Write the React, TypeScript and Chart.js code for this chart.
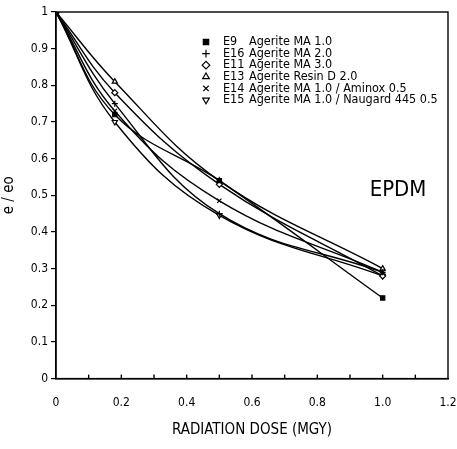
import React, { useEffect, useRef } from "react";
import { Chart, registerables } from "chart.js";
import { drawPoint } from "chart.js/helpers";

Chart.register(...registerables);

const doses = [0, 0.18, 0.5, 1.0];
const e9 = [1, 0.72, 0.54, 0.22];
const e16 = [1, 0.75, 0.45, 0.29];
const e11 = [1, 0.78, 0.53, 0.28];
const e13 = [1, 0.81, 0.54, 0.3];
const e14 = [1, 0.73, 0.485, 0.29];
const e15 = [1, 0.7, 0.445, 0.28];

const seriesCodes = ["E9", "E16", "E11", "E13", "E14", "E15"];
const seriesNames = [
  "Agerite MA 1.0",
  "Agerite MA 2.0",
  "Agerite MA 3.0",
  "Agerite Resin D 2.0",
  "Agerite MA 1.0 / Aminox 0.5",
  "Agerite MA 1.0 / Naugard 445 0.5",
];
const seriesValues = [e9, e16, e11, e13, e14, e15];
const pointStyles: any[] = ["rect", "cross", "rectRot", "triangle", "crossRot", "triangle"];
const rotations = [0, 0, 0, 0, 0, 180];
const filled = [true, false, false, false, false, false];

const FONT = "'DejaVu Sans Condensed', 'Liberation Sans Narrow', 'Liberation Sans', Arial, sans-serif";

const framePlugin = {
  id: "frame",
  afterDraw(chart: any) {
    const { ctx, chartArea, scales } = chart;
    ctx.save();
    ctx.strokeStyle = "#000";
    ctx.lineWidth = 1.4;
    ctx.strokeRect(chartArea.left, chartArea.top, chartArea.right - chartArea.left, chartArea.bottom - chartArea.top);
    const xs = scales.x;
    for (let i = 1; i < 12; i++) {
      const px = xs.getPixelForValue(i / 10);
      ctx.beginPath();
      ctx.moveTo(px, chartArea.bottom);
      ctx.lineTo(px, chartArea.bottom - 4);
      ctx.stroke();
    }
    const lx = 206;
    const cx = 223;
    const tx = 249;
    let ly = 42;
    ctx.font = `12.5px ${FONT}`;
    ctx.textBaseline = "middle";
    ctx.textAlign = "left";
    for (let i = 0; i < seriesNames.length; i++) {
      ctx.lineWidth = 1.2;
      ctx.strokeStyle = "#000";
      ctx.fillStyle = filled[i] ? "#000" : "#fff";
      drawPoint(ctx, { pointStyle: pointStyles[i], rotation: rotations[i], radius: 3.8, borderWidth: 1.2 }, lx, ly);
      ctx.fillStyle = "#000";
      ctx.fillText(seriesCodes[i], cx, ly);
      ctx.fillText(seriesNames[i], tx, ly);
      ly += 11.6;
    }
    ctx.font = `22px ${FONT}`;
    ctx.textAlign = "center";
    const ex = scales.x.getPixelForValue(1.047);
    const ey = scales.y.getPixelForValue(0.515);
    ctx.fillText("EPDM", ex, ey);
    ctx.restore();
  },
};

export default function App() {
  const ref = useRef<HTMLCanvasElement>(null);
  useEffect(() => {
    const prevMargin = document.body.style.margin;
    document.body.style.margin = "0";
    const chart = new Chart(ref.current!, {
      type: "line",
      data: {
        datasets: seriesValues.map((vals, i) => ({
          label: seriesCodes[i] + " " + seriesNames[i],
          data: doses.map((d, j) => ({ x: d, y: vals[j] })),
          borderColor: "#000",
          borderWidth: 1.4,
          backgroundColor: filled[i] ? "#000" : "#fff",
          pointStyle: pointStyles[i],
          pointRotation: rotations[i],
          pointRadius: 3,
          pointBorderColor: "#000",
          pointBorderWidth: 1.2,
          tension: 0.4,
          fill: false,
        })),
      },
      options: {
        animation: false,
        responsive: false,
        maintainAspectRatio: false,
        layout: { padding: { top: 12, right: 9, left: 0, bottom: 10 } },
        plugins: { legend: { display: false }, tooltip: { enabled: false } },
        scales: {
          x: {
            type: "linear",
            min: 0,
            max: 1.2,
            border: { display: true, color: "#000", width: 1.4 },
            grid: { display: false },
            ticks: {
              stepSize: 0.2,
              color: "#000",
              font: { family: FONT, size: 12 },
              padding: 9,
              callback: (v: any) => (v === 0 ? "0" : Number(v).toFixed(1)),
            },
            title: {
              display: true,
              text: "RADIATION DOSE (MGY)",
              color: "#000",
              font: { family: FONT, size: 15 },
              padding: { top: 2, bottom: 0 },
            },
            afterFit: (s: any) => {
              s.paddingLeft = 0;
              s.paddingRight = 0;
            },
          },
          y: {
            type: "linear",
            min: 0,
            max: 1,
            border: { display: true, color: "#000", width: 1.4 },
            grid: { drawOnChartArea: false, color: "#000", tickLength: 5, lineWidth: 1.2 },
            ticks: {
              stepSize: 0.1,
              color: "#000",
              font: { family: FONT, size: 12 },
              padding: 3,
              callback: (v: any) => (Math.abs(v) < 1e-9 ? "0" : Math.abs(v - 1) < 1e-9 ? "1" : Number(v).toFixed(1)),
            },
            title: {
              display: true,
              text: "e / eo",
              color: "#000",
              font: { family: FONT, size: 15 },
              padding: { top: 0, bottom: 4 },
            },
            afterFit: (s: any) => {
              s.width = 56;
            },
          },
        },
      },
      plugins: [framePlugin],
    });
    return () => {
      chart.destroy();
      document.body.style.margin = prevMargin;
    };
  }, []);
  return (
    <div style={{ width: 457, height: 449, background: "#fff" }}>
      <canvas ref={ref} width={457} height={449} style={{ display: "block" }} />
    </div>
  );
}
